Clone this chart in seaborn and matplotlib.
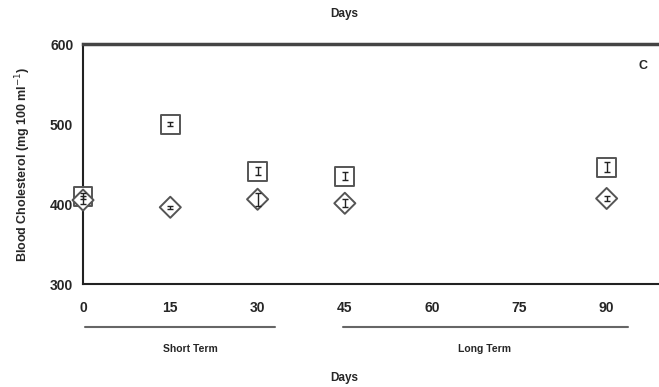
import matplotlib
matplotlib.use("Agg")
import matplotlib.pyplot as plt
import seaborn as sns
import pandas as pd
from matplotlib.lines import Line2D

days = [0, 15, 30, 45, 90]
series_square = [410, 500, 441, 435, 446]
series_square_err = [4, 2, 5, 5, 6]
series_diamond = [405, 396, 406, 401, 407]
series_diamond_err = [5, 2, 8, 5, 3]
x_ticks = [0, 15, 30, 45, 60, 75, 90]
y_ticks = [300, 400, 500, 600]

sns.set_theme(style="white")
plt.rcParams['font.family'] = ['Liberation Sans', 'DejaVu Sans']

df = pd.DataFrame({
    "Days": days * 2,
    "Chol": series_square + series_diamond,
    "Err": series_square_err + series_diamond_err,
    "Group": ["sq"] * len(days) + ["di"] * len(days),
})

fig = plt.figure(figsize=(6.59, 3.87), dpi=100)
ax = fig.add_axes([0.126, 0.266, 0.874, 0.620])

sns.scatterplot(data=df, x="Days", y="Chol", style="Group", markers={"sq": "s", "di": "D"},
                size="Group", sizes={"sq": 185, "di": 115},
                facecolor="white", edgecolor="#555555", linewidth=1.4, legend=False,
                ax=ax, zorder=3, clip_on=False)
for g in ["sq", "di"]:
    sub = df[df.Group == g]
    ax.errorbar(sub["Days"], sub["Chol"], yerr=sub["Err"], fmt="none", ecolor="#222222",
                elinewidth=1.0, capsize=2.5, capthick=1.0, zorder=4, clip_on=False)

ax.set_xlim(0, 99)
ax.set_ylim(300, 600)
ax.set_xticks(x_ticks)
ax.set_yticks(y_ticks)
ax.set_xlabel("")
ax.set_ylabel("Blood Cholesterol (mg 100 ml$^{-1}$)", fontsize=9, fontweight="bold", labelpad=12)
for lab in ax.get_xticklabels() + ax.get_yticklabels():
    lab.set_fontweight("bold")
    lab.set_fontsize(10)
ax.tick_params(axis="both", direction="out", length=4, width=1, color="#333333", pad=8)
ax.tick_params(axis="y", pad=3)

for s in ["left", "bottom"]:
    ax.spines[s].set_color("#222222")
    ax.spines[s].set_linewidth(1.5)
ax.spines["top"].set_color("#444444")
ax.spines["top"].set_linewidth(2.5)
ax.spines["right"].set_visible(False)

ax.text(0.972, 0.91, "C", transform=ax.transAxes, fontsize=9, fontweight="bold", ha="center", va="center")

fig.text(0.523, 0.965, "Days", fontsize=8.5, fontweight="bold", ha="center", va="center")
fig.text(0.523, 0.023, "Days", fontsize=8.5, fontweight="bold", ha="center", va="center")

y_line = 1 - 327 / 387
fig.add_artist(Line2D([85 / 659, 275 / 659], [y_line, y_line], color="#666666", linewidth=1.5))
fig.add_artist(Line2D([343 / 659, 628 / 659], [y_line, y_line], color="#666666", linewidth=1.5))
fig.text(190 / 659, 1 - 349 / 387, "Short Term", fontsize=7.5, fontweight="bold", ha="center", va="center")
fig.text(485 / 659, 1 - 349 / 387, "Long Term", fontsize=7.5, fontweight="bold", ha="center", va="center")

fig.savefig("out.png", dpi=100)
